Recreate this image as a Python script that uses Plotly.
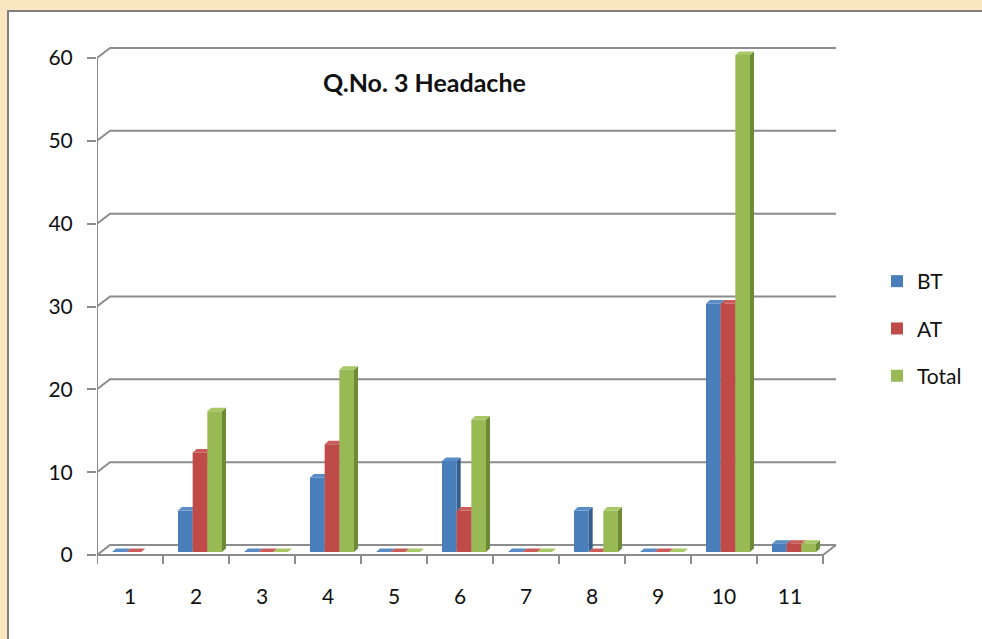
import plotly.graph_objects as go

# ---------------- data ----------------
categories = ["1", "2", "3", "4", "5", "6", "7", "8", "9", "10", "11"]
bt = [0, 5, 0, 9, 0, 11, 0, 5, 0, 30, 1]
at = [0, 12, 0, 13, 0, 5, 0, 0, 0, 30, 1]
total = [None, 17, 0, 22, 0, 16, 0, 5, 0, 60, 1]
series_names = ["BT", "AT", "Total"]
y_tick_vals = [0, 10, 20, 30, 40, 50, 60]
y_tick_text = ["0", "10", "20", "30", "40", "50", "60"]
title_text = "Q.No. 3 Headache"

# ---------------- styling / geometry ----------------
front_colors = ["#4a7ebb", "#be4b48", "#98b954"]
side_colors = ["#355d8c", "#8e3633", "#6d8a37"]
top_colors = ["#5a8cc8", "#cc5c59", "#a8c866"]
grid_color = "#8c8c8c"
FONT = "Lato"

W, H = 982, 639
L, R, T, B = 97, 842, 44, 568          # plot area in px
PX_X = 66.0                            # px per category
PX_Y = (555 - 58) / 60.0               # px per unit (front plane)
X0PX, Y0PX = 130.0, 555.0              # px of category 1 / value 0 (front plane)
BACK = (13.0, 10.0)                    # back wall offset (right, up) px
MID = (4.0, 3.0)                       # bar plane offset px
BAR_D, BAR_E = 4.0, 3.5                # bar depth px (right, up)
GROUP_W = 2.0 / 3.0
BAR_W = GROUP_W / 3.0


def xr_for(shift):
    return [1 + (L - X0PX - shift) / PX_X, 1 + (R - X0PX - shift) / PX_X]


def yr_for(up):
    return [(Y0PX - up - B) / PX_Y, (Y0PX - up - T) / PX_Y]


ncat = len(categories)
xpos = list(range(1, ncat + 1))

fig = go.Figure()

# ---------------- walls / gridlines (front-plane axes) ----------------
bdx, bdy = BACK[0] / PX_X, BACK[1] / PX_Y
lx, ly = [], []
left_edge = 0.5
right_edge = ncat + 0.5
for v in y_tick_vals:
    lx += [left_edge, left_edge + bdx, right_edge + bdx, None]
    ly += [v, v + bdy, v + bdy, None]
lx += [left_edge, right_edge, right_edge + bdx, None]
ly += [0, 0, bdy, None]
tick_down = 9 / PX_Y
for k in range(ncat + 1):
    lx += [left_edge + k, left_edge + k, None]
    ly += [0, -tick_down, None]
lx += [left_edge, left_edge, None]
ly += [-tick_down, max(y_tick_vals), None]
fig.add_trace(go.Scatter(x=lx, y=ly, mode="lines", line=dict(color=grid_color, width=2),
                         hoverinfo="skip", showlegend=False, xaxis="x", yaxis="y"))

# ---------------- bar side & top faces (mid plane, x2/y2) ----------------
d, e = BAR_D / PX_X, BAR_E / PX_Y
all_series = [bt, at, total]
for s, vals in enumerate(all_series):
    sx, sy, tx, ty = [], [], [], []
    for c, v in zip(xpos, vals):
        if v is None:
            continue
        xl = c - GROUP_W / 2 + s * BAR_W
        xr = xl + BAR_W
        sx += [xr, xr, xr + d, xr + d, xr, None]
        sy += [0, v, v + e, e, 0, None]
        tx += [xl, xr, xr + d, xl + d, xl, None]
        ty += [v, v, v + e, v + e, v, None]
    fig.add_trace(go.Scatter(x=sx, y=sy, mode="lines", fill="toself", fillcolor=side_colors[s],
                             line=dict(width=0, color=side_colors[s]), hoverinfo="skip",
                             showlegend=False, xaxis="x2", yaxis="y2"))
    fig.add_trace(go.Scatter(x=tx, y=ty, mode="lines", fill="toself", fillcolor=top_colors[s],
                             line=dict(width=0, color=top_colors[s]), hoverinfo="skip",
                             showlegend=False, xaxis="x2", yaxis="y2"))

# ---------------- bar front faces (mid plane, x3/y3) ----------------
for s, vals in enumerate(all_series):
    fig.add_trace(go.Bar(x=xpos, y=vals, width=BAR_W, offset=-GROUP_W / 2 + s * BAR_W,
                         marker=dict(color=front_colors[s], line=dict(width=0)),
                         name=series_names[s], showlegend=False, xaxis="x3", yaxis="y3"))

# ---------------- legend entries ----------------
for s, name in enumerate(series_names):
    fig.add_trace(go.Scatter(x=[None], y=[None], mode="markers", name=name,
                             marker=dict(symbol="square", size=15, color=front_colors[s]),
                             legendgroup=name, xaxis="x", yaxis="y"))

# ---------------- layout ----------------
fx = xr_for(0)
fy = yr_for(0)
mx = xr_for(MID[0])
my = yr_for(MID[1])

tickfont = dict(family=FONT, size=21, color="#111111")
fig.update_layout(
    width=W, height=H,
    margin=dict(l=L, r=W - R, t=T, b=H - B, pad=0),
    paper_bgcolor="#fbe6c2",
    plot_bgcolor="rgba(0,0,0,0)",
    barmode="overlay",
    font=dict(family=FONT, size=21, color="#111111"),
    title=dict(text="<b>" + title_text + "</b>", x=424.5 / W, xanchor="center",
               y=1 - 83 / H, yanchor="middle", font=dict(family=FONT, size=25, color="#111111")),
    xaxis=dict(range=fx, tickmode="array", tickvals=xpos, ticktext=categories, ticks="",
               showgrid=False, zeroline=False, showline=False, tickfont=tickfont,
               ticklabelstandoff=14, fixedrange=True),
    yaxis=dict(range=fy, tickmode="array", tickvals=y_tick_vals, ticktext=y_tick_text,
               ticks="outside", ticklen=9, tickwidth=2, tickcolor=grid_color,
               showgrid=False, zeroline=False, showline=False, tickfont=tickfont,
               ticklabelstandoff=10, fixedrange=True),
    xaxis2=dict(range=mx, overlaying="x", anchor="y2", visible=False, fixedrange=True),
    yaxis2=dict(range=my, overlaying="y", anchor="x2", visible=False, fixedrange=True),
    xaxis3=dict(range=mx, overlaying="x", anchor="y3", visible=False, fixedrange=True),
    yaxis3=dict(range=my, overlaying="y", anchor="x3", visible=False, fixedrange=True),
    legend=dict(x=(877 - L) / (R - L), xanchor="left", y=(B - 328.5) / (B - T), yanchor="middle",
                font=dict(family=FONT, size=21, color="#111111"), bgcolor="rgba(0,0,0,0)",
                tracegroupgap=17, itemsizing="constant"),
    showlegend=True,
)

# chart-area frame (white panel with grey border)
fig.add_shape(type="rect", xref="paper", yref="paper",
              x0=(8 - L) / (R - L), x1=(W + 20 - L) / (R - L),
              y0=(B - (H + 20)) / (B - T), y1=(B - 11) / (B - T),
              fillcolor="white", line=dict(color="#7f7f7f", width=2), layer="below")

fig.write_html("out.html", config={"displayModeBar": False},
               post_script="document.body.style.margin='0';document.body.style.overflow='hidden';")
